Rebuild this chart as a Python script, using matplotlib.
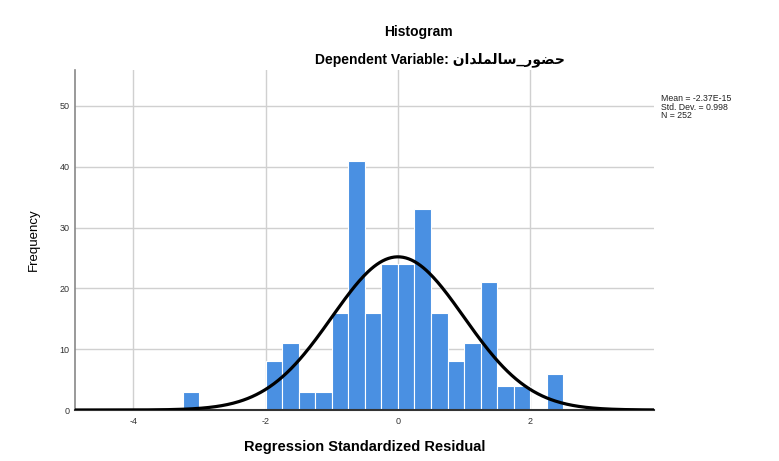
import numpy as np
import matplotlib
matplotlib.use("Agg")
import matplotlib.pyplot as plt

plt.rcParams['font.family'] = ['Liberation Sans', 'DejaVu Sans']

# Data
bin_starts = [-3.25, -2.0, -1.75, -1.5, -1.25, -1.0, -0.75, -0.5, -0.25,
              0.0, 0.25, 0.5, 0.75, 1.0, 1.25, 1.5, 1.75, 2.25]
counts = [3, 8, 11, 3, 3, 16, 41, 16, 24, 24, 33, 16, 8, 11, 21, 4, 4, 6]
bin_width = 0.25
mean_val = -2.37e-15
std_val = 0.998
n_val = 252
x_ticks = [-4, -2, 0, 2]
y_ticks = [0, 10, 20, 30, 40, 50]

fig = plt.figure(figsize=(7.79, 4.61), dpi=100)
ax = fig.add_axes([75/779, 51/461, 579/779, 340/461])

ax.bar(bin_starts, counts, width=bin_width, align='edge',
       color='#4a90e2', edgecolor='white', linewidth=0.8, zorder=2)

xs = np.linspace(-4.88, 3.87, 400)
pdf = n_val * bin_width / (std_val * np.sqrt(2 * np.pi)) * np.exp(-0.5 * ((xs - mean_val) / std_val) ** 2)
ax.plot(xs, pdf, color='black', lw=2.3, zorder=3)

ax.set_xlim(-4.88, 3.87)
ax.set_ylim(0, 55.9)
ax.set_xticks(x_ticks)
ax.set_yticks(y_ticks)
ax.set_xticklabels([str(t) for t in x_ticks])
ax.grid(True, color='#d0d0d0', lw=1.0, zorder=0)
ax.set_axisbelow(True)
for s in ['top', 'right']:
    ax.spines[s].set_visible(False)
ax.spines['left'].set_color('#888888')
ax.spines['left'].set_linewidth(1.2)
ax.spines['bottom'].set_color('#333333')
ax.spines['bottom'].set_linewidth(1.5)
ax.tick_params(axis='x', length=0, labelsize=6.5, labelcolor='#333333', pad=5)
ax.tick_params(axis='y', length=0, labelsize=6.5, labelcolor='#333333', pad=4)

ax.set_ylabel('Frequency', fontsize=9.5, labelpad=14)
ax.set_xlabel('Regression Standardized Residual', fontsize=10.5, fontweight='bold', labelpad=10)

fig.text(418/779, 1 - 32/461, 'Histogram', ha='center', va='center',
         fontsize=10, fontweight='bold')
arabic = "\uFEE5\uFE8D\uFEAA\uFEE0\uFEE4\uFEDF\uFE8E\uFEB3_\uFEAD\uFEEE\uFEC0\uFEA3"
fig.text(440/779, 1 - 60/461, 'Dependent Variable: ' + arabic, ha='center', va='center',
         fontsize=10, fontweight='bold')

fig.text(661/779, 1 - 94/461,
         'Mean = -2.37E-15\nStd. Dev. = 0.998\nN = 252',
         ha='left', va='top', fontsize=6.3, linespacing=0.95, color='#222222')

fig.savefig('out.png', dpi=100, facecolor='white')
